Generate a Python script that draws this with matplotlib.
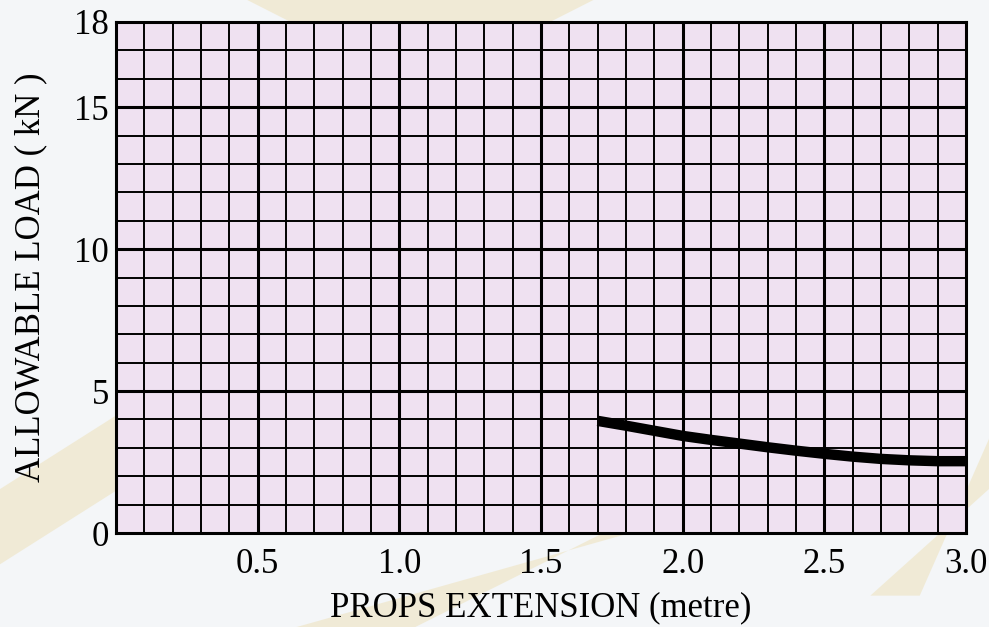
import matplotlib
matplotlib.use("Agg")
import matplotlib.pyplot as plt
from matplotlib.patches import Polygon
import numpy as np

# data
extension = [1.7, 1.8, 1.9, 2.0, 2.1, 2.2, 2.3, 2.4, 2.5, 2.6, 2.7, 2.8, 2.9, 3.0]
allowable_load = [3.95, 3.78, 3.6, 3.42, 3.28, 3.15, 3.02, 2.9, 2.79, 2.69, 2.61, 2.56, 2.53, 2.53]
x_ticks = [0.5, 1.0, 1.5, 2.0, 2.5, 3.0]
x_tick_labels = ["0.5", "1.0", "1.5", "2.0", "2.5", "3.0"]
y_ticks = [0, 5, 10, 15, 18]
y_tick_labels = ["0", "5", "10", "15", "18"]

plt.rcParams['font.family'] = ['Liberation Serif', 'DejaVu Serif']

fig = plt.figure(figsize=(9.89, 6.27), dpi=100)
fig.patch.set_facecolor('#F4F6F8')

# faint decorative background (faded photo of props), behind everything
bg = fig.add_axes([0, 0, 1, 1], zorder=-10)
bg.set_xlim(0, 1)
bg.set_ylim(0, 1)
bg.axis('off')
bands = [
    [(0.00, 0.10), (0.00, 0.22), (0.40, 0.62), (0.40, 0.50)],
    [(0.30, 0.00), (0.42, 0.00), (0.80, 0.30), (0.75, 0.20)],
    [(0.88, 0.05), (0.93, 0.05), (1.00, 0.30), (1.00, 0.22)],
    [(0.25, 1.00), (0.60, 1.00), (0.55, 0.96), (0.30, 0.96)],
]
for b in bands:
    bg.add_patch(Polygon(b, closed=True, facecolor='#EFE6C8', edgecolor='none', alpha=0.7))

ax = fig.add_axes([116/989, 1 - 533/627, (966-116)/989, (533-22)/627])
ax.set_facecolor('#EFE1F1')
ax.set_xlim(0, 3.0)
ax.set_ylim(0, 18)

# grid
for xv in np.arange(1, 30):
    x = xv / 10
    lw = 2.2 if xv % 5 == 0 else 1.4
    ax.axvline(x, color='black', lw=lw, zorder=1)
for yv in range(1, 18):
    lw = 2.2 if yv % 5 == 0 else 1.4
    ax.axhline(yv, color='black', lw=lw, zorder=1)

for s in ax.spines.values():
    s.set_linewidth(2.2)
    s.set_color('black')

ax.plot(extension, allowable_load, color='black', lw=7.5, solid_capstyle='butt', zorder=3)

ax.set_xticks(x_ticks)
ax.set_xticklabels(x_tick_labels, fontsize=25)
ax.set_yticks(y_ticks)
ax.set_yticklabels(y_tick_labels, fontsize=25)
ax.tick_params(axis='both', length=0)
ax.tick_params(axis='x', pad=11)
ax.tick_params(axis='y', pad=5)

ax.set_xlabel("PROPS EXTENSION (metre)", fontsize=25, labelpad=7)
ax.set_ylabel("ALLOWABLE LOAD ( kN )", fontsize=25, labelpad=19)

fig.savefig("out.png", dpi=100, facecolor=fig.get_facecolor())
